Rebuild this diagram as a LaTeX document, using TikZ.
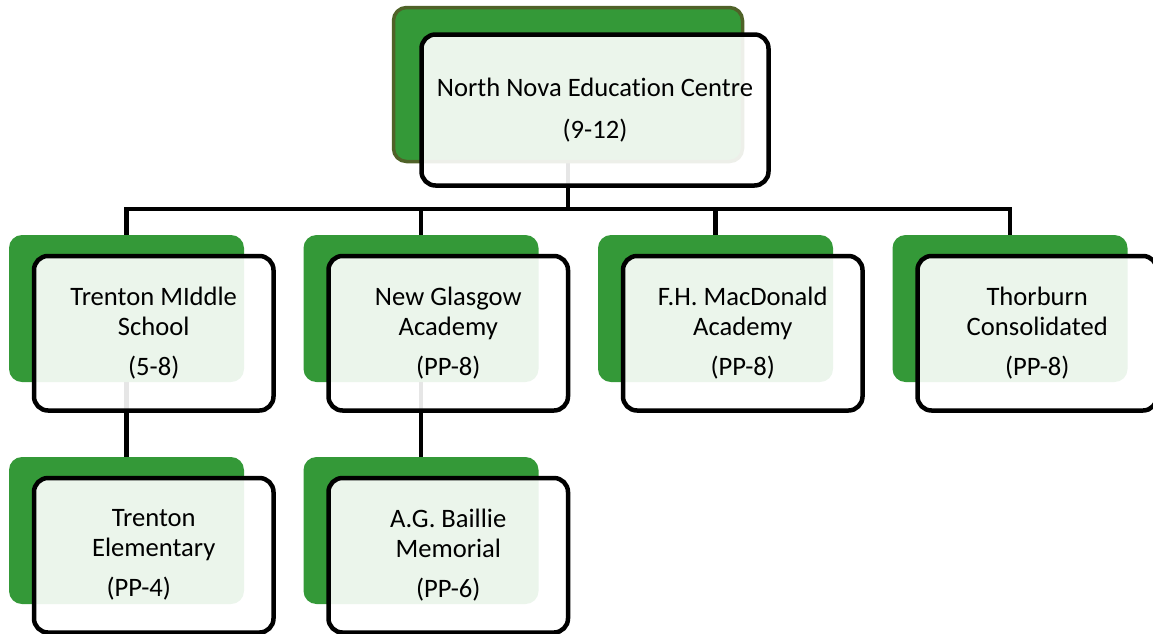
\documentclass[tikz,border=0pt]{standalone}
\usepackage{fontspec}
\setmainfont{Carlito}[Ligatures=NoCommon]
\definecolor{sgreen}{RGB}{52,153,56}
\definecolor{olive}{RGB}{79,98,40}
\tikzset{
  gbox/.style={rectangle, rounded corners=13pt, fill=sgreen, inner sep=0pt, outer sep=0pt,
    minimum width=235pt, minimum height=147pt, anchor=north west},
  fbox/.style={rectangle, rounded corners=14pt, draw=black, line width=4.5pt,
    fill=white, fill opacity=0.9, draw opacity=1, text opacity=1, inner sep=0pt, outer sep=0pt,
    minimum width=239.5pt, minimum height=154.5pt, anchor=north west, align=center,
    font=\fontsize{26.6}{30}\selectfont},
  conn/.style={draw=black, line width=4.5pt, line join=miter}
}
\begin{document}
\begin{tikzpicture}[x=1pt, y=-1pt]
\clip (0,0) rectangle (1153,633);
% connector bus
\coordinate (bus) at (568,209);
% green back boxes (placeholders for connector anchors)
\path (393.5,7.5) node[gbox, minimum width=349pt, minimum height=154pt, fill=none] (g0) {};
\path (9,235) node[gbox, fill=none] (g1) {};
\path (303.5,235) node[gbox, fill=none] (g2) {};
\path (598,235) node[gbox, fill=none] (g3) {};
\path (892.5,235) node[gbox, fill=none] (g4) {};
\path (9,457) node[gbox, fill=none] (g5) {};
\path (303.5,457) node[gbox, fill=none] (g6) {};
% connectors
\draw[conn] (g0.south) -- (bus);
\draw[conn] (g1.north) |- (bus);
\draw[conn] (g2.north) |- (bus);
\draw[conn] (g3.north) |- (bus);
\draw[conn] (g4.north) |- (bus);
\draw[conn] (g1.south) -- (g5.north);
\draw[conn] (g2.south) -- (g6.north);
% green fills
\path (393.5,7.5) node[gbox, minimum width=349pt, minimum height=154pt, draw=olive, line width=3.5pt] (G0) {};
\path (9,235) node[gbox] (G1) {};
\path (303.5,235) node[gbox] (G2) {};
\path (598,235) node[gbox] (G3) {};
\path (892.5,235) node[gbox] (G4) {};
\path (9,457) node[gbox] (G5) {};
\path (303.5,457) node[gbox] (G6) {};
% front boxes
\path (421.5,34.5) node[fbox, minimum width=347pt, minimum height=151pt] (f0)
  {North Nova Education Centre\\[12pt](9-12)};
\path (34,256) node[fbox] (f1) {Trenton MIddle\\School\\[10pt](5-8)};
\path (328.5,256) node[fbox] (f2) {New Glasgow\\Academy\\[10pt](PP-8)};
\path (623,256) node[fbox] (f3) {F.H. MacDonald\\Academy\\[10pt](PP-8)};
\path (917.5,256) node[fbox] (f4) {Thorburn\\Consolidated\\[10pt](PP-8)};
\path (34,478) node[fbox] (f5) {Trenton\\Elementary\\[10pt]\hspace*{-30pt}(PP-4)};
\path (328.5,478) node[fbox] (f6) {A.G. Baillie\\Memorial\\[10pt](PP-6)};
\end{tikzpicture}
\end{document}
